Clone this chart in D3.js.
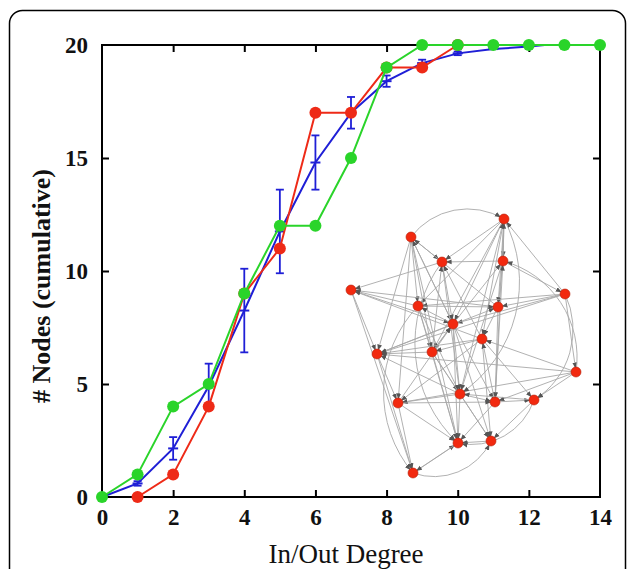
<!DOCTYPE html>
<html>
<head>
<meta charset="utf-8">
<script src="https://cdn.jsdelivr.net/npm/d3@7"></script>
<style>
  body { margin: 0; background: #fff; }
  svg { display: block; }
</style>
</head>
<body>
<div id="chart"></div>
<script>
// degree values on the x axis
const degrees = [0, 1, 2, 3, 4, 5, 6, 7, 8, 9, 10, 11, 12, 13, 14];

// green series (cumulative node count)
const greenX = [0, 1, 2, 3, 4, 5, 6, 7, 8, 9, 10, 11, 12, 13, 14];
const greenY = [0, 1, 4, 5, 9, 12, 12, 15, 19, 20, 20, 20, 20, 20, 20];

// red series
const redX = [1, 2, 3, 4, 5, 6, 7, 8, 9, 10];
const redY = [0, 1, 4, 9, 11, 17, 17, 19, 19, 20];

// blue series: mean with error bars
const blueX = [0, 1, 2, 3, 4, 5, 6, 7, 8, 9, 10, 11, 12, 12.45];
const blueY = [0, 0.6, 2.15, 4.9, 8.25, 11.75, 14.8, 17.0, 18.4, 19.2, 19.63, 19.82, 19.93, 20];
const blueErr = [0, 0.1, 0.5, 1.0, 1.85, 1.85, 1.2, 0.7, 0.25, 0.15, 0.08, 0.05, 0, 0];

const xTicks = [0, 2, 4, 6, 8, 10, 12, 14];
const yTicks = [0, 5, 10, 15, 20];

// inset network: node positions in inset units
const nodeX = [159, 66, 97, 158, 6, 220, 73, 153, 108, 137, 32, 87, 231, 115, 150, 189, 53, 113, 146, 68];
const nodeY = [11, 29, 54, 53, 82, 86, 98, 99, 116, 131, 146, 144, 164, 186, 194, 192, 195, 235, 233, 265];

// directed edges [source, target]
const edges = [
  [0, 2], [0, 3], [0, 7], [0, 8], [0, 9], [0, 6], [0, 11], [0, 14],
  [5, 0], [3, 0], [13, 0],
  [1, 6], [1, 10], [1, 11], [1, 16], [1, 8], [1, 2], [1, 17],
  [8, 1], [7, 1],
  [3, 2], [2, 4], [2, 8], [2, 13], [11, 2], [9, 2],
  [3, 7], [3, 5], [3, 13], [8, 3], [14, 3],
  [6, 4], [7, 4], [4, 10], [4, 8], [9, 4],
  [5, 7], [5, 8], [5, 12], [5, 10], [5, 6],
  [6, 7], [6, 11], [6, 13], [6, 17], [8, 6],
  [7, 9], [7, 14], [10, 7],
  [8, 10], [8, 11], [8, 13], [8, 14], [8, 17], [8, 18], [11, 8], [16, 8],
  [9, 10], [9, 11], [9, 15], [9, 16], [9, 18], [14, 9], [12, 9],
  [10, 16], [11, 10], [13, 10], [12, 10],
  [11, 13], [11, 17], [11, 18],
  [12, 14], [12, 15], [12, 16],
  [13, 14], [13, 17], [13, 18], [13, 16],
  [14, 15], [14, 17], [15, 18], [15, 13],
  [16, 17], [16, 19], [16, 14],
  [18, 17], [19, 17],
  [10, 19], [4, 19], [17, 19]
];
// curved edges [source, target, sweep]
const arcs = [
  [1, 0, 1], [5, 15, 1], [19, 18, 0], [6, 19, 0], [12, 3, 0], [0, 13, 1], [15, 17, 1], [2, 17, 0]
];

const W = 627, H = 569;
const margin = { top: 45, right: 27, bottom: 72, left: 102 };
const width = W - margin.left - margin.right,
  height = H - margin.top - margin.bottom;

const svg = d3.select("#chart").append("svg")
  .attr("width", W).attr("height", H);

// outer rounded frame
svg.append("rect")
  .attr("x", 9.5).attr("y", 10.5)
  .attr("width", 616).attr("height", 600)
  .attr("rx", 13)
  .attr("fill", "none")
  .attr("stroke", "#000")
  .attr("stroke-width", 1.5);

const graph = svg.append("g")
  .attr("transform", `translate(${margin.left}, ${margin.top})`);

const xScale = d3.scaleLinear().domain([0, 14]).range([0, width]);
const yScale = d3.scaleLinear().domain([0, 20]).range([height, 0]);

const font = "'Liberation Serif', 'Times New Roman', serif";

// axes: ticks point inward on all four sides
const tickLen = 7;
graph.append("g")
  .attr("transform", `translate(0, ${height})`)
  .call(d3.axisBottom(xScale).tickValues(xTicks).tickSize(-tickLen).tickPadding(12).tickFormat(d3.format("d")))
  .call(g => g.select(".domain").remove())
  .call(g => g.selectAll("line").attr("stroke-width", 2).filter(d => d === 0 || d === 14).remove())
  .call(g => g.selectAll("text").attr("font-family", font).attr("font-size", "23px").attr("font-weight", "bold").attr("fill", "#111"));

graph.append("g")
  .call(d3.axisTop(xScale).tickValues(xTicks).tickSize(-tickLen).tickFormat(""))
  .call(g => g.select(".domain").remove())
  .call(g => g.selectAll("line").attr("stroke-width", 2).filter(d => d === 0 || d === 14).remove());

graph.append("g")
  .call(d3.axisLeft(yScale).tickValues(yTicks).tickSize(-tickLen).tickPadding(14).tickFormat(d3.format("d")))
  .call(g => g.select(".domain").remove())
  .call(g => g.selectAll("line").attr("stroke-width", 2).filter(d => d === 0 || d === 20).remove())
  .call(g => g.selectAll("text").attr("font-family", font).attr("font-size", "23px").attr("font-weight", "bold").attr("fill", "#111"));

graph.append("g")
  .attr("transform", `translate(${width}, 0)`)
  .call(d3.axisRight(yScale).tickValues(yTicks).tickSize(-tickLen).tickFormat(""))
  .call(g => g.select(".domain").remove())
  .call(g => g.selectAll("line").attr("stroke-width", 2).filter(d => d === 0 || d === 20).remove());

graph.append("rect")
  .attr("width", width).attr("height", height)
  .attr("fill", "none").attr("stroke", "#000").attr("stroke-width", 2);

// axis titles
graph.append("text")
  .attr("x", width / 2 - 5)
  .attr("y", height + 66)
  .attr("text-anchor", "middle")
  .attr("font-family", font)
  .attr("font-size", "27px")
  .attr("fill", "#111")
  .text("In/Out Degree");

graph.append("text")
  .attr("transform", "rotate(-90)")
  .attr("x", -(height / 2) - 15)
  .attr("y", -52)
  .attr("text-anchor", "middle")
  .attr("font-family", font)
  .attr("font-size", "26px")
  .attr("font-weight", "bold")
  .attr("fill", "#111")
  .text("# Nodes (cumulative)");

// inset network
const inset = graph.append("g").attr("class", "inset");
const nx = d3.scaleLinear().domain([0, 240]).range([345 - margin.left, 585 - margin.left]);
const ny = d3.scaleLinear().domain([0, 270]).range([208 - margin.top, 478 - margin.top]);

svg.append("defs").append("marker")
  .attr("id", "arrow")
  .attr("viewBox", "0 0 10 10")
  .attr("refX", 16).attr("refY", 5)
  .attr("markerWidth", 6).attr("markerHeight", 6)
  .attr("markerUnits", "userSpaceOnUse")
  .attr("orient", "auto")
  .append("path")
  .attr("d", "M0,1 L10,5 L0,9 Z")
  .attr("fill", "#555");

inset.selectAll("line.edge")
  .data(edges)
  .enter()
  .append("line")
  .attr("class", "edge")
  .attr("x1", d => nx(nodeX[d[0]]))
  .attr("y1", d => ny(nodeY[d[0]]))
  .attr("x2", d => nx(nodeX[d[1]]))
  .attr("y2", d => ny(nodeY[d[1]]))
  .attr("stroke", "#a8a8a8")
  .attr("stroke-width", 0.9)
  .attr("marker-end", "url(#arrow)");

inset.selectAll("path.arc")
  .data(arcs)
  .enter()
  .append("path")
  .attr("class", "arc")
  .attr("d", d => {
    const x1 = nx(nodeX[d[0]]), y1 = ny(nodeY[d[0]]);
    const x2 = nx(nodeX[d[1]]), y2 = ny(nodeY[d[1]]);
    const r = Math.hypot(x2 - x1, y2 - y1) * 0.75;
    return `M${x1},${y1} A${r},${r} 0 0,${d[2]} ${x2},${y2}`;
  })
  .attr("fill", "none")
  .attr("stroke", "#a8a8a8")
  .attr("stroke-width", 0.9)
  .attr("marker-end", "url(#arrow)");

inset.selectAll("circle.node")
  .data(nodeX)
  .enter()
  .append("circle")
  .attr("class", "node")
  .attr("cx", d => nx(d))
  .attr("cy", (d, i) => ny(nodeY[i]))
  .attr("r", 5)
  .attr("fill", "#f2290f")
  .attr("stroke", "#b3200a")
  .attr("stroke-width", 0.6);

// series
const line = d3.line().x(d => xScale(d[0])).y(d => yScale(d[1]));
const blue = "#1f1fd6", red = "#ee2a17", green = "#2ad42a";

const blueData = blueX.map((x, i) => [x, blueY[i], blueErr[i]]);
const redData = redX.map((x, i) => [x, redY[i]]);
const greenData = greenX.map((x, i) => [x, greenY[i]]);

const gBlue = graph.append("g");
gBlue.append("path").datum(blueData).attr("d", line)
  .attr("fill", "none").attr("stroke", blue).attr("stroke-width", 2);
const eb = gBlue.selectAll("g.err").data(blueData.filter(d => d[2] > 0.07)).enter().append("g");
eb.append("line")
  .attr("x1", d => xScale(d[0])).attr("x2", d => xScale(d[0]))
  .attr("y1", d => yScale(d[1] - d[2])).attr("y2", d => yScale(d[1] + d[2]))
  .attr("stroke", blue).attr("stroke-width", 1.8);
eb.append("line")
  .attr("x1", d => xScale(d[0]) - 4).attr("x2", d => xScale(d[0]) + 4)
  .attr("y1", d => yScale(d[1] + d[2])).attr("y2", d => yScale(d[1] + d[2]))
  .attr("stroke", blue).attr("stroke-width", 1.8);
eb.append("line")
  .attr("x1", d => xScale(d[0]) - 4).attr("x2", d => xScale(d[0]) + 4)
  .attr("y1", d => yScale(d[1] - d[2])).attr("y2", d => yScale(d[1] - d[2]))
  .attr("stroke", blue).attr("stroke-width", 1.8);
gBlue.selectAll("line.mk").data(blueData.filter(d => d[0] % 1 === 0)).enter().append("line")
  .attr("class", "mk")
  .attr("x1", d => xScale(d[0]) - 5).attr("x2", d => xScale(d[0]) + 5)
  .attr("y1", d => yScale(d[1])).attr("y2", d => yScale(d[1]))
  .attr("stroke", blue).attr("stroke-width", 2);

const gRed = graph.append("g");
gRed.append("path").datum(redData).attr("d", line)
  .attr("fill", "none").attr("stroke", red).attr("stroke-width", 2);
gRed.selectAll("circle").data(redData).enter().append("circle")
  .attr("cx", d => xScale(d[0])).attr("cy", d => yScale(d[1]))
  .attr("r", 6).attr("fill", red);

const gGreen = graph.append("g");
gGreen.append("path").datum(greenData).attr("d", line)
  .attr("fill", "none").attr("stroke", green).attr("stroke-width", 2);
gGreen.selectAll("circle").data(greenData).enter().append("circle")
  .attr("cx", d => xScale(d[0])).attr("cy", d => yScale(d[1]))
  .attr("r", 6).attr("fill", green);
</script>
</body>
</html>
